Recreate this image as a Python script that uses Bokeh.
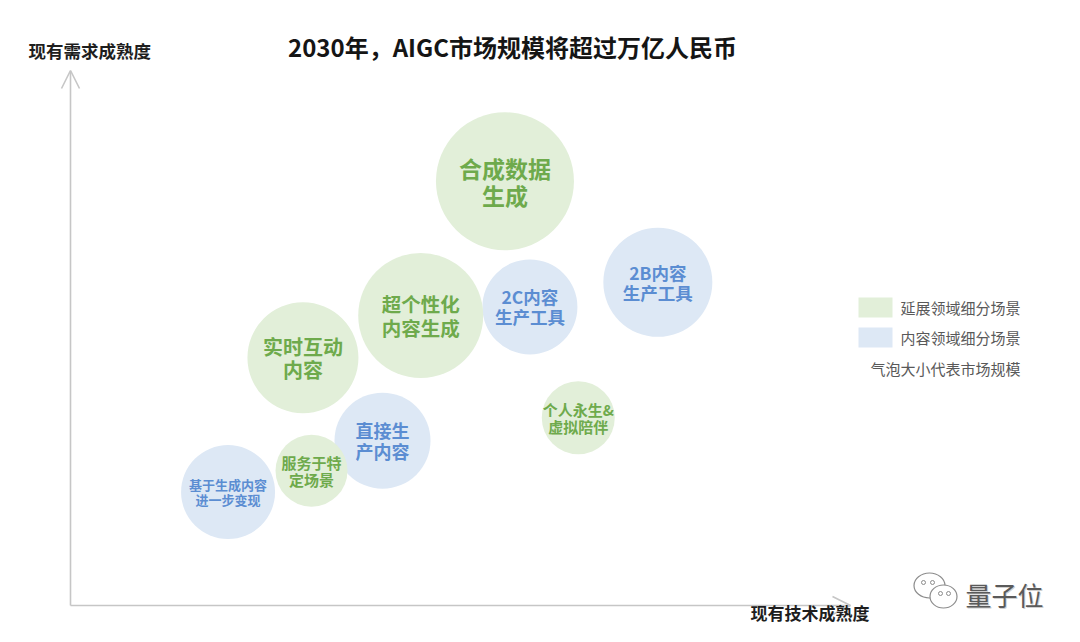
from bokeh.plotting import figure
from bokeh.models import (Range1d, Label, Arrow, OpenHead, BoxAnnotation,
                          ColumnDataSource)
from bokeh.core.properties import value
from bokeh.embed import file_html
from bokeh.resources import INLINE

# ---------------- data ----------------
title_text = "2030年，AIGC市场规模将超过万亿人民币"
x_axis_label = "现有技术成熟度"
y_axis_label = "现有需求成熟度"
scene_labels = ["合成数据\n生成", "2B内容\n生产工具", "2C内容\n生产工具",
                "超个性化\n内容生成", "实时互动\n内容", "直接生\n产内容",
                "服务于特\n定场景", "基于生成内容\n进一步变现", "个人永生&\n虚拟陪伴"]
scene_types = ["延展领域细分场景", "内容领域细分场景", "内容领域细分场景",
               "延展领域细分场景", "延展领域细分场景", "内容领域细分场景",
               "延展领域细分场景", "内容领域细分场景", "延展领域细分场景"]
tech_maturity = [55.7, 75.3, 58.9, 44.9, 29.8, 40.0, 30.9, 20.2, 65.1]
demand_maturity = [79.3, 60.4, 55.8, 54.2, 46.3, 30.8, 25.2, 21.2, 35.1]
market_size = [138, 109, 95, 125, 111, 96, 72, 94, 73]
legend_types = ["延展领域细分场景", "内容领域细分场景"]
size_note = "气泡大小代表市场规模"
watermark = "量子位"

# ---------------- styles ----------------
FONT = "Noto Sans CJK SC"
fill_colors = {"延展领域细分场景": "#e2efd9", "内容领域细分场景": "#dde8f5"}
text_colors = {"延展领域细分场景": "#6eaa4c", "内容领域细分场景": "#5b8dd2"}
label_font_px = [23, 17.5, 17.5, 19.5, 20, 18, 15, 13, 15]
AXIS_COLOR = "#c6c6c6"

# mapping helpers (picture pixel -> data units), used only for annotations
X0_PX, Y0_PX, X_PX_PER_UNIT, Y_PX_PER_UNIT = 70, 605, 7.8, 5.35
def dx(px):
    return (px - X0_PX) / X_PX_PER_UNIT
def dy(py):
    return (Y0_PX - py) / Y_PX_PER_UNIT

W, H = 1064, 626
p = figure(width=W, height=H, output_backend="svg", toolbar_location=None,
           x_axis_type=None, y_axis_type=None, title=None,
           x_range=Range1d(dx(0), dx(W)), y_range=Range1d(dy(H), dy(0)),
           min_border=0, min_border_left=0, min_border_right=0,
           min_border_top=0, min_border_bottom=0)
p.outline_line_color = None
p.background_fill_color = "white"
p.border_fill_color = "white"

src = ColumnDataSource(dict(
    x=tech_maturity, y=demand_maturity, size=market_size, label=scene_labels,
    kind=scene_types,
    fill=[fill_colors[t] for t in scene_types],
    tcolor=[text_colors[t] for t in scene_types],
    fsize=[f"{s}px" for s in label_font_px],
))

p.scatter(x="x", y="y", size="size", source=src, marker="circle",
          fill_color="fill", line_color=None)
p.text(x="x", y="y", text="label", source=src, text_align="center",
       text_baseline="middle", text_font=value(FONT), text_font_size="fsize",
       text_color="tcolor", text_font_style="bold", text_line_height=0.8)

# axes with arrows
p.add_layout(Arrow(x_start=0, y_start=0, x_end=100, y_end=0,
                   line_color=AXIS_COLOR, line_width=1.6,
                   end=OpenHead(size=18, line_color=AXIS_COLOR, line_width=1.6)))
p.add_layout(Arrow(x_start=0, y_start=0, x_end=0, y_end=100,
                   line_color=AXIS_COLOR, line_width=1.6,
                   end=OpenHead(size=18, line_color=AXIS_COLOR, line_width=1.6)))

p.add_layout(Label(x=dx(28), y=dy(50), text=y_axis_label, text_align="left",
                   text_baseline="middle", text_font=FONT, text_font_size="17.5px",
                   text_font_style="bold", text_color="#1e1e1e"))
p.add_layout(Label(x=dx(869), y=dy(612), text=x_axis_label, text_align="right",
                   text_baseline="middle", text_font=FONT, text_font_size="17px",
                   text_font_style="bold", text_color="#1e1e1e"))
p.add_layout(Label(x=dx(512), y=dy(46), text=title_text, text_align="center",
                   text_baseline="middle", text_font=FONT, text_font_size="24px",
                   text_font_style="bold", text_color="#151515"))

# legend: swatches + labels
for i, t in enumerate(legend_types):
    top_px = 297 + 30 * i
    p.add_layout(BoxAnnotation(left=dx(858), right=dx(892), top=dy(top_px),
                               bottom=dy(top_px + 20), fill_color=fill_colors[t],
                               fill_alpha=1, line_color=None))
    p.add_layout(Label(x=dx(900), y=dy(top_px + 10), text=t, text_align="left",
                       text_baseline="middle", text_font=FONT, text_font_size="15px",
                       text_color="#595959"))
p.add_layout(Label(x=dx(870), y=dy(368), text=size_note, text_align="left",
                   text_baseline="middle", text_font=FONT, text_font_size="15px",
                   text_color="#595959"))

# watermark
p.ellipse(x=[dx(929)], y=[dy(585)], width=31, height=25, width_units="screen",
          height_units="screen", fill_color="white", line_color="#8c8c8c", line_width=1.2)
p.ellipse(x=[dx(943)], y=[dy(596)], width=27, height=23, width_units="screen",
          height_units="screen", fill_color="white", line_color="#8c8c8c", line_width=1.2)
p.scatter(x=[dx(923), dx(932), dx(940), dx(948)], y=[dy(582), dy(582), dy(593), dy(593)],
          size=4, marker="circle", fill_color="white", line_color="#8c8c8c", line_width=1)
p.add_layout(Label(x=dx(965), y=dy(594), x_offset=1, y_offset=-1, text=watermark,
                   text_align="left", text_baseline="middle", text_font=FONT,
                   text_font_size="26px", text_color="#d0d0d0"))
p.add_layout(Label(x=dx(965), y=dy(594), text=watermark, text_align="left",
                   text_baseline="middle", text_font=FONT, text_font_size="26px",
                   text_color="#5a5a5a"))

open("out.html", "w").write(file_html(p, INLINE))
